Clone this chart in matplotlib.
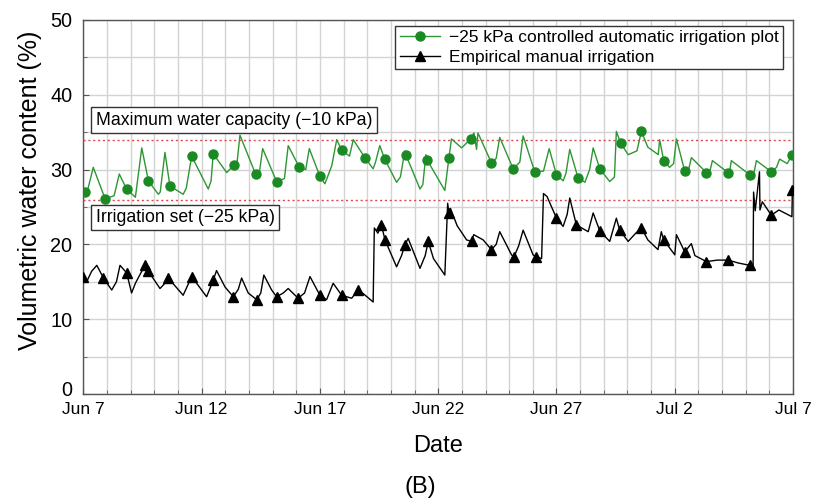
import matplotlib
matplotlib.use("Agg")
import matplotlib.pyplot as plt
import matplotlib.transforms as mtransforms
import numpy as np

plt.rcParams['font.family'] = ['Liberation Sans', 'DejaVu Sans']

# (days since Jun 7, volumetric water content %)
auto_pts = [
    (0.00, 27.4), (0.05, 27.0), (0.20, 27.5), (0.42, 30.3), (0.92, 26.1), (1.30, 26.5),
    (1.52, 29.4), (1.83, 27.4), (2.20, 26.3), (2.47, 32.9), (2.75, 28.5), (3.17, 26.7),
    (3.25, 27.0), (3.45, 32.3), (3.66, 27.8), (4.22, 26.7), (4.35, 27.5), (4.58, 31.8),
    (5.28, 27.4), (5.40, 28.5), (5.49, 32.1), (6.06, 29.6), (6.37, 30.6), (6.50, 31.0),
    (6.62, 34.6), (7.28, 29.4), (7.45, 29.8), (7.58, 32.8), (8.17, 28.4), (8.50, 28.8),
    (8.66, 33.2), (9.13, 30.3), (9.40, 30.0), (9.55, 32.8), (10.00, 29.1), (10.21, 28.1),
    (10.50, 30.5), (10.71, 34.0), (10.92, 32.6), (11.25, 31.8), (11.41, 34.0), (11.90, 31.6),
    (12.25, 30.1), (12.35, 31.0), (12.53, 33.2), (12.74, 31.4), (13.24, 28.3), (13.40, 29.0),
    (13.59, 32.5), (13.63, 32.0), (14.23, 27.4), (14.35, 28.0), (14.48, 32.0), (14.53, 31.3),
    (15.28, 27.2), (15.45, 31.5), (15.56, 34.1), (15.99, 32.9), (16.37, 34.1), (16.51, 34.9),
    (16.62, 32.7), (16.68, 34.9), (17.25, 30.9), (17.45, 31.5), (17.60, 34.3), (18.17, 30.1),
    (18.45, 31.0), (18.59, 34.5), (19.08, 29.7), (19.45, 29.8), (19.69, 32.8), (20.00, 29.3),
    (20.28, 28.5), (20.40, 29.5), (20.56, 32.7), (20.91, 28.9), (21.20, 28.3), (21.40, 30.0),
    (21.55, 32.9), (21.83, 30.1), (22.25, 28.4), (22.45, 29.0), (22.53, 35.1), (22.72, 33.5),
    (23.03, 32.0), (23.40, 32.5), (23.59, 35.1), (23.86, 33.0), (24.30, 32.0), (24.36, 34.0),
    (24.53, 31.2), (24.78, 30.3), (24.95, 30.8), (25.07, 34.1), (25.42, 29.8), (25.60, 30.2),
    (25.70, 31.6), (26.34, 29.6), (26.50, 30.0), (26.59, 31.2), (27.25, 29.6), (27.32, 29.8),
    (27.39, 31.2), (28.17, 29.3), (28.35, 29.6), (28.45, 31.2), (29.08, 29.7), (29.30, 30.3),
    (29.43, 31.4), (29.75, 30.8), (29.97, 32.0),
]
auto_mark_t = [0.05, 0.92, 1.83, 2.75, 3.66, 4.58, 5.49, 6.37, 7.28, 8.17, 9.13, 10.00,
               10.92, 11.90, 12.74, 13.63, 14.53, 15.45, 16.37, 17.25, 18.17, 19.08, 20.00,
               20.91, 21.83, 22.72, 23.59, 24.53, 25.42, 26.34, 27.25, 28.17, 29.08, 29.97]

manual_pts = [
    (0.00, 15.7), (0.14, 15.0), (0.35, 16.4), (0.57, 17.2), (0.85, 15.5), (1.20, 13.9),
    (1.40, 15.0), (1.55, 17.2), (1.83, 16.2), (2.04, 13.5), (2.20, 14.8), (2.40, 16.0),
    (2.61, 17.2), (2.75, 16.4), (3.24, 14.1), (3.45, 14.8), (3.59, 15.5), (4.22, 13.2),
    (4.58, 15.7), (5.21, 13.0), (5.49, 15.2), (5.63, 16.5), (5.99, 14.3), (6.34, 13.0),
    (6.55, 14.0), (6.69, 15.5), (6.97, 13.5), (7.33, 12.6), (7.50, 13.5), (7.63, 15.9),
    (7.96, 13.9), (8.17, 13.0), (8.45, 13.5), (8.66, 14.1), (9.08, 12.8), (9.35, 13.5),
    (9.58, 15.7), (10.00, 13.2), (10.28, 12.6), (10.56, 14.8), (10.92, 13.2), (11.34, 12.8),
    (11.62, 13.9), (11.80, 13.5), (12.25, 12.3), (12.30, 22.2), (12.45, 21.5), (12.60, 22.6),
    (12.75, 20.6), (13.24, 17.0), (13.45, 18.5), (13.59, 19.9), (13.73, 20.8), (14.23, 16.8),
    (14.45, 18.5), (14.58, 20.4), (14.80, 18.1), (15.28, 15.9), (15.40, 25.5), (15.45, 24.2),
    (15.52, 24.8), (15.80, 22.5), (16.20, 20.6), (16.41, 20.4), (16.50, 21.3), (16.90, 20.6),
    (17.25, 19.3), (17.45, 20.0), (17.60, 21.7), (18.10, 18.6), (18.20, 18.3), (18.40, 19.8),
    (18.59, 21.9), (19.01, 18.6), (19.15, 18.3), (19.37, 18.1), (19.45, 26.8), (19.60, 26.4),
    (20.00, 23.5), (20.28, 22.4), (20.45, 24.0), (20.56, 26.2), (20.84, 22.6), (21.34, 21.7),
    (21.55, 24.2), (21.83, 21.8), (22.25, 20.4), (22.53, 23.5), (22.67, 21.9), (23.03, 20.4),
    (23.35, 21.5), (23.59, 22.2), (23.86, 20.6), (24.29, 19.3), (24.43, 21.7), (24.53, 20.6),
    (25.00, 18.6), (25.07, 21.3), (25.42, 19.0), (25.70, 20.1), (25.85, 18.5), (26.34, 17.7),
    (26.80, 17.9), (27.25, 17.9), (27.70, 17.5), (28.17, 17.2), (28.31, 17.0), (28.33, 27.0),
    (28.40, 24.5), (28.58, 29.7), (28.60, 24.6), (28.70, 25.7), (29.08, 23.9), (29.40, 24.6),
    (29.95, 23.7), (29.97, 27.3),
]
manual_mark_t = [0.00, 0.85, 1.83, 2.61, 2.75, 3.59, 4.58, 5.49, 6.34, 7.33, 8.17, 9.08,
                 10.00, 10.92, 11.62, 12.60, 12.75, 13.59, 14.58, 15.45, 16.41, 17.25, 18.20,
                 19.15, 20.00, 20.84, 21.83, 22.67, 23.59, 24.53, 25.42, 26.34, 27.25, 28.17,
                 29.08, 29.97]

date_ticks = [0, 5, 10, 15, 20, 25, 30]
date_labels = ["Jun 7", "Jun 12", "Jun 17", "Jun 22", "Jun 27", "Jul 2", "Jul 7"]
max_capacity = 34.0
irrigation_set = 26.0


def unpack(pts, mark_t):
    t = np.array([p[0] for p in pts])
    v = np.array([p[1] for p in pts])
    idx = [int(np.argmin(np.abs(t - m))) for m in mark_t]
    return t, v, idx


auto_t, auto_v, auto_idx = unpack(auto_pts, auto_mark_t)
man_t, man_v, man_idx = unpack(manual_pts, manual_mark_t)

fig = plt.figure(figsize=(8.13, 5.01), dpi=100)
ax = fig.add_axes([0.1025, 0.2136, 0.8730, 0.7465])

green = "#2e9633"
ax.plot(auto_t, auto_v, color=green, lw=1.0, marker="o", ms=6.5, mfc="#1b8a24",
        mec="#1b8a24", markevery=auto_idx,
        label="\u221225 kPa controlled automatic irrigation plot", zorder=4)
ax.plot(man_t, man_v, color="black", lw=1.0, marker="^", ms=7,
        markevery=man_idx, label="Empirical manual irrigation", zorder=4)

ax.axhline(max_capacity, color="#e04848", ls=(0, (1.5, 2)), lw=1.0, zorder=3)
ax.axhline(irrigation_set, color="#e04848", ls=(0, (1.5, 2)), lw=1.0, zorder=3)

box = dict(boxstyle="square,pad=0.25", fc="white", ec="#333333", lw=1.0)
ax.text(0.52, 36.6, "Maximum water capacity (\u221210 kPa)", fontsize=12.7,
        ha="left", va="center", bbox=box, zorder=5)
ax.text(0.52, 23.6, "Irrigation set (\u221225 kPa)", fontsize=12.7,
        ha="left", va="center", bbox=box, zorder=5)

ax.set_xlim(0, 30)
ax.set_ylim(0, 50)
ax.set_xticks(date_ticks)
ax.set_xticklabels(date_labels)
ax.set_xticks(np.arange(0, 31, 1), minor=True)
ax.set_yticks([0, 10, 20, 30, 40, 50])
ax.set_yticks(np.arange(0, 51, 5), minor=True)
ax.tick_params(axis="both", which="both", direction="in", color="#555555")
ax.tick_params(axis="x", which="major", labelsize=12.5, length=4, pad=6)
ax.tick_params(axis="y", which="major", labelsize=14.3, length=4, pad=8)
ax.tick_params(which="minor", length=3)
ax.grid(True, which="both", color="#d3d3d3", lw=1.0, zorder=0)
ax.set_axisbelow(True)
for s in ax.spines.values():
    s.set_color("#555555")
    s.set_linewidth(1.0)

# lift the "0" label a little so it clears "Jun 7", as in the original
zero_lbl = ax.yaxis.get_major_ticks()[0].label1
zero_lbl.set_transform(zero_lbl.get_transform()
                       + mtransforms.ScaledTranslation(0, 4 / 72, fig.dpi_scale_trans))

ax.set_xlabel("Date", fontsize=17, labelpad=13)
ax.set_ylabel("Volumetric water content (%)", fontsize=18)
ax.yaxis.set_label_coords(-0.058, 0.545)
fig.text(0.517, 0.028, "(B)", fontsize=17, ha="center", va="center")

leg = ax.legend(loc="upper right", bbox_to_anchor=(0.986, 0.984), fontsize=12.5,
                frameon=True, fancybox=False, edgecolor="#333333", framealpha=1,
                borderaxespad=0, handlelength=2.3, borderpad=0.25, labelspacing=0.25,
                handletextpad=0.55)
leg.get_frame().set_linewidth(1.0)

fig.savefig("out.png", dpi=100)
